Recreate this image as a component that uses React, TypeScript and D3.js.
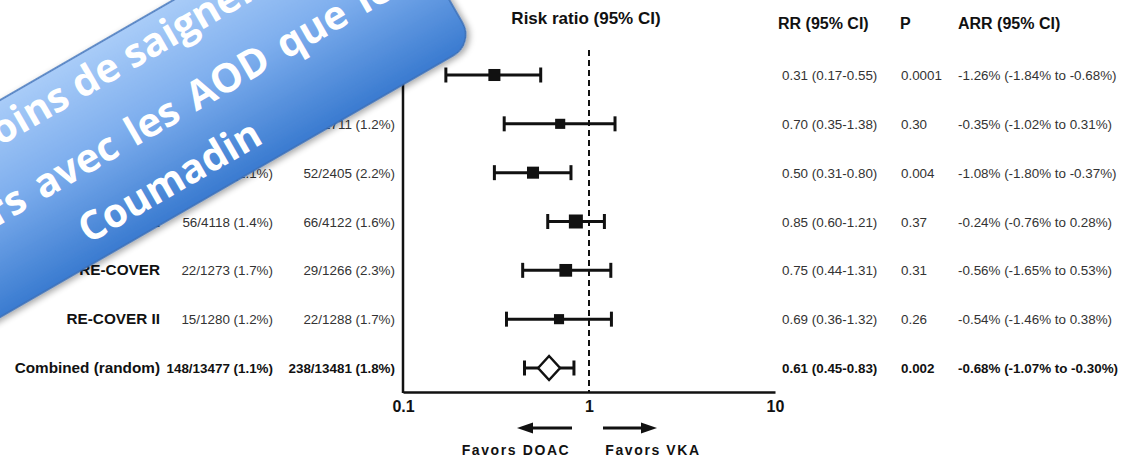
import React, { useRef, useEffect } from 'react';
import * as d3 from 'd3';

const studies = ["AMPLIFY", "EINSTEIN-DVT", "EINSTEIN-PE", "Hokusai-VTE", "RE-COVER", "RE-COVER II", "Combined (random)"];
const doacEvents = ["15/2676 (0.6%)", "14/1718 (0.8%)", "26/2412 (1.1%)", "56/4118 (1.4%)", "22/1273 (1.7%)", "15/1280 (1.2%)", "148/13477 (1.1%)"];
const vkaEvents = ["49/2689 (1.8%)", "20/1711 (1.2%)", "52/2405 (2.2%)", "66/4122 (1.6%)", "29/1266 (2.3%)", "22/1288 (1.7%)", "238/13481 (1.8%)"];
const rr = [0.31, 0.70, 0.50, 0.85, 0.75, 0.69, 0.61];
const rrLow = [0.17, 0.35, 0.31, 0.60, 0.44, 0.36, 0.45];
const rrHigh = [0.55, 1.38, 0.80, 1.21, 1.31, 1.32, 0.83];
const weights = [17, 12, 17, 23, 19, 12];
const rrText = ["0.31 (0.17-0.55)", "0.70 (0.35-1.38)", "0.50 (0.31-0.80)", "0.85 (0.60-1.21)", "0.75 (0.44-1.31)", "0.69 (0.36-1.32)", "0.61 (0.45-0.83)"];
const pValues = ["0.0001", "0.30", "0.004", "0.37", "0.31", "0.26", "0.002"];
const arrText = ["-1.26% (-1.84% to -0.68%)", "-0.35% (-1.02% to 0.31%)", "-1.08% (-1.80% to -0.37%)", "-0.24% (-0.76% to 0.28%)", "-0.56% (-1.65% to 0.53%)", "-0.54% (-1.46% to 0.38%)", "-0.68% (-1.07% to -0.30%)"];
const xTicks = [0.1, 1, 10];
const bannerLines = ["Moins de saignements", "majeurs avec les AOD que le", "Coumadin"];

const FONT = "'Liberation Sans', Arial, sans-serif";

export default function App() {
  const svgRef = useRef(null);

  useEffect(() => {
    const svg = d3.select(svgRef.current);
    svg.selectAll("*").remove();

    const width = 1127;
    const height = 464;
    const axisY = 392;

    const x = d3.scaleLog().domain([0.1, 10]).range([403, 775]);
    const y = d3.scalePoint().domain(studies).range([75, 368]);
    const size = d3.scaleSqrt().domain([0, 23]).range([0, 14]);

    svg.attr("width", width).attr("height", height).style("font-family", FONT);

    // defs: banner gradient + shadow
    const defs = svg.append("defs");
    const grad = defs.append("linearGradient")
      .attr("id", "bannerGrad")
      .attr("gradientUnits", "userSpaceOnUse")
      .attr("x1", 0).attr("y1", -157).attr("x2", 0).attr("y2", 31);
    grad.append("stop").attr("offset", 0).attr("stop-color", "#a9ccf8");
    grad.append("stop").attr("offset", 0.45).attr("stop-color", "#7fafee");
    grad.append("stop").attr("offset", 1).attr("stop-color", "#3a7bd0");
    const shadow = defs.append("filter").attr("id", "shadow")
      .attr("x", "-20%").attr("y", "-20%").attr("width", "140%").attr("height", "140%");
    shadow.append("feDropShadow")
      .attr("dx", 2).attr("dy", 3).attr("stdDeviation", 3)
      .attr("flood-color", "#000").attr("flood-opacity", 0.35);

    // title + headers
    svg.append("text").attr("x", 586).attr("y", 24).attr("text-anchor", "middle")
      .attr("font-size", 17).attr("font-weight", "bold").attr("fill", "#111")
      .text("Risk ratio (95% CI)");
    svg.append("text").attr("x", 778).attr("y", 28.5).attr("font-size", 16)
      .attr("font-weight", "bold").attr("fill", "#111").text("RR (95% CI)");
    svg.append("text").attr("x", 900).attr("y", 28.5).attr("font-size", 16)
      .attr("font-weight", "bold").attr("fill", "#111").text("P");
    svg.append("text").attr("x", 958).attr("y", 28.5).attr("font-size", 16)
      .attr("font-weight", "bold").attr("fill", "#111").text("ARR (95% CI)");

    // row labels and values
    studies.forEach((s, i) => {
      const isTotal = i === studies.length - 1;
      const yy = y(s) + 5;
      const g = svg.append("g").attr("fill", isTotal ? "#111" : "#333");
      g.append("text").attr("x", 160).attr("y", yy).attr("text-anchor", "end")
        .attr("font-size", 15.3).attr("font-weight", "bold").attr("fill", "#111").text(s);
      g.append("text").attr("x", 273).attr("y", yy).attr("text-anchor", "end")
        .attr("font-size", 13.4).attr("font-weight", isTotal ? "bold" : "normal").text(doacEvents[i]);
      g.append("text").attr("x", 395).attr("y", yy).attr("text-anchor", "end")
        .attr("font-size", 13.4).attr("font-weight", isTotal ? "bold" : "normal").text(vkaEvents[i]);
      g.append("text").attr("x", 782).attr("y", yy)
        .attr("font-size", 13.4).attr("font-weight", isTotal ? "bold" : "normal").text(rrText[i]);
      g.append("text").attr("x", 901).attr("y", yy)
        .attr("font-size", 13.4).attr("font-weight", isTotal ? "bold" : "normal").text(pValues[i]);
      g.append("text").attr("x", 958).attr("y", yy)
        .attr("font-size", 13.4).attr("font-weight", isTotal ? "bold" : "normal").text(arrText[i]);
    });

    // null line
    svg.append("line")
      .attr("x1", x(1)).attr("x2", x(1)).attr("y1", 50).attr("y2", axisY)
      .attr("stroke", "#111").attr("stroke-width", 2).attr("stroke-dasharray", "6,4");

    // axes
    svg.append("line")
      .attr("x1", x(0.1)).attr("x2", x(0.1)).attr("y1", 50).attr("y2", axisY + 1)
      .attr("stroke", "#111").attr("stroke-width", 2.5);

    const xAxis = d3.axisBottom(x).tickValues(xTicks).tickFormat(d => String(d)).tickSize(0).tickSizeOuter(0).tickPadding(9);
    const gx = svg.append("g").attr("transform", `translate(0,${axisY})`).call(xAxis);
    gx.select(".domain").attr("stroke", "#111").attr("stroke-width", 2.5);
    gx.selectAll("text").attr("font-size", 16).attr("font-weight", "bold")
      .attr("fill", "#111").style("font-family", FONT);

    // CI whiskers + squares
    studies.forEach((s, i) => {
      const cy = y(s);
      const g = svg.append("g").attr("stroke", "#111").attr("stroke-width", 3);
      g.append("line").attr("x1", x(rrLow[i])).attr("x2", x(rrHigh[i])).attr("y1", cy).attr("y2", cy);
      g.append("line").attr("x1", x(rrLow[i])).attr("x2", x(rrLow[i])).attr("y1", cy - 7.5).attr("y2", cy + 7.5);
      g.append("line").attr("x1", x(rrHigh[i])).attr("x2", x(rrHigh[i])).attr("y1", cy - 7.5).attr("y2", cy + 7.5);
      if (i < weights.length) {
        const sz = size(weights[i]);
        svg.append("rect").attr("x", x(rr[i]) - sz / 2).attr("y", cy - sz / 2)
          .attr("width", sz).attr("height", sz).attr("fill", "#111");
      } else {
        const cx = x(rr[i]);
        svg.append("path")
          .attr("d", `M${cx - 11},${cy} L${cx},${cy - 12} L${cx + 11},${cy} L${cx},${cy + 12} Z`)
          .attr("fill", "#fff").attr("stroke", "#111").attr("stroke-width", 2.5);
      }
    });

    // favors arrows
    const ay = 428;
    const x1 = x(1);
    svg.append("line").attr("x1", x1 - 17).attr("x2", x1 - 58).attr("y1", ay).attr("y2", ay)
      .attr("stroke", "#111").attr("stroke-width", 3);
    svg.append("path").attr("d", `M${x1 - 72},${ay} L${x1 - 56},${ay - 5.5} L${x1 - 56},${ay + 5.5} Z`).attr("fill", "#111");
    svg.append("line").attr("x1", x1 + 14).attr("x2", x1 + 55).attr("y1", ay).attr("y2", ay)
      .attr("stroke", "#111").attr("stroke-width", 3);
    svg.append("path").attr("d", `M${x1 + 68},${ay} L${x1 + 52},${ay - 5.5} L${x1 + 52},${ay + 5.5} Z`).attr("fill", "#111");
    svg.append("text").attr("x", 516).attr("y", 455).attr("text-anchor", "middle")
      .attr("font-size", 14).attr("font-weight", "bold").attr("letter-spacing", 1.6)
      .attr("fill", "#111").text("Favors DOAC");
    svg.append("text").attr("x", 653).attr("y", 455).attr("text-anchor", "middle")
      .attr("font-size", 14).attr("font-weight", "bold").attr("letter-spacing", 1.6)
      .attr("fill", "#111").text("Favors VKA");

    // rotated banner on top
    const banner = svg.append("g").attr("transform", "translate(170.5,183) rotate(-30)");
    banner.append("rect")
      .attr("x", -333).attr("y", -157).attr("width", 666).attr("height", 188)
      .attr("rx", 24).attr("ry", 24)
      .attr("fill", "url(#bannerGrad)").attr("stroke", "#3b6fb6").attr("stroke-width", 1.5)
      .attr("filter", "url(#shadow)");
    const lineX = [56, -5, 0];
    const lineY = [-117, -49, 12];
    const wordGap = [0, 4.6, 0];
    bannerLines.forEach((t, i) => {
      banner.append("text").attr("x", lineX[i]).attr("y", lineY[i]).attr("text-anchor", "middle")
        .attr("fill", "#fff").attr("font-size", 40).attr("font-weight", "bold")
        .attr("word-spacing", wordGap[i])
        .style("font-family", "'Open Sans', sans-serif").text(t);
    });
  }, []);

  return <svg ref={svgRef} width={1127} height={464} style={{ position: "absolute", left: 0, top: 0 }} />;
}
